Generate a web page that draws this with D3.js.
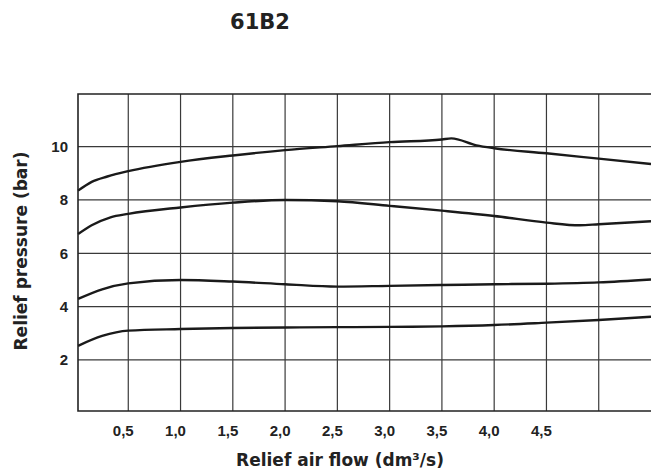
<!DOCTYPE html>
<html>
<head>
<meta charset="utf-8">
<script src="https://cdn.jsdelivr.net/npm/d3@7"></script>
<style>
  body { margin: 0; background: #fff; }
  svg { display: block; }
</style>
</head>
<body>
<div class="chart"></div>
<script>
const width = 651, height = 472;

// flow values (dm3/s)
const flowA = [0.02, 0.15, 0.3, 0.5, 1.0, 1.5, 2.0, 2.5, 3.0, 3.5, 3.59, 3.83, 4.0, 4.5, 5.0, 5.5];
const presA = [8.35, 8.68, 8.88, 9.08, 9.43, 9.67, 9.87, 10.02, 10.17, 10.27, 10.31, 10.05, 9.94, 9.75, 9.55, 9.35];

const flowB = [0.02, 0.15, 0.33, 0.5, 1.0, 1.5, 2.0, 2.5, 3.0, 3.5, 4.0, 4.5, 4.82, 5.0, 5.5];
const presB = [6.72, 7.05, 7.35, 7.48, 7.72, 7.9, 8.0, 7.95, 7.78, 7.6, 7.4, 7.15, 7.05, 7.09, 7.2];

const flowC = [0.02, 0.25, 0.5, 1.0, 1.5, 2.0, 2.5, 3.0, 3.5, 4.0, 4.5, 5.0, 5.5];
const presC = [4.29, 4.65, 4.87, 5.0, 4.94, 4.84, 4.75, 4.78, 4.81, 4.84, 4.86, 4.91, 5.02];

const flowD = [0.02, 0.25, 0.5, 1.0, 1.5, 2.0, 2.5, 3.0, 3.5, 4.0, 4.5, 5.0, 5.5];
const presD = [2.53, 2.9, 3.1, 3.16, 3.2, 3.22, 3.23, 3.24, 3.26, 3.31, 3.4, 3.5, 3.62];

const xTicks = [0.5, 1.0, 1.5, 2.0, 2.5, 3.0, 3.5, 4.0, 4.5];
const xGrid = [0.5, 1.0, 1.5, 2.0, 2.5, 3.0, 3.5, 4.0, 4.5, 5.0];
const yTicks = [2, 4, 6, 8, 10];

const x = d3.scaleLinear().domain([0, 5.5]).range([76, 651]);
const y = d3.scaleLinear().domain([0, 12]).range([413.3, 93.3]);

const svg = d3.select(".chart").append("svg")
    .attr("width", width)
    .attr("height", height);

const plotLeft = 78, plotTop = 94, plotBottom = 411;
const titleFont = "DejaVu Sans, sans-serif";
const tickFont = "Liberation Sans, Arial, sans-serif";

// grid
svg.append("g")
    .attr("stroke", "#3a3a3a")
    .attr("stroke-width", 1.2)
  .selectAll("line")
  .data(xGrid)
  .join("line")
    .attr("x1", d => x(d)).attr("x2", d => x(d))
    .attr("y1", plotTop).attr("y2", plotBottom);

svg.append("g")
    .attr("stroke", "#3a3a3a")
    .attr("stroke-width", 1.2)
  .selectAll("line")
  .data(yTicks)
  .join("line")
    .attr("x1", plotLeft).attr("x2", width)
    .attr("y1", d => y(d)).attr("y2", d => y(d));

// frame (top, left, bottom)
svg.append("path")
    .attr("d", `M${width},${plotTop}H${plotLeft}V${plotBottom}H${width}`)
    .attr("fill", "none")
    .attr("stroke", "#222")
    .attr("stroke-width", 1.6);

// curves
const line = d3.line()
    .x(d => x(d[0]))
    .y(d => y(d[1]))
    .curve(d3.curveMonotoneX);

const series = [
  d3.zip(flowA, presA),
  d3.zip(flowB, presB),
  d3.zip(flowC, presC),
  d3.zip(flowD, presD)
];

svg.append("g")
  .selectAll("path")
  .data(series)
  .join("path")
    .attr("d", line)
    .attr("fill", "none")
    .attr("stroke", "#1a1a1a")
    .attr("stroke-width", 2.4)
    .attr("stroke-linejoin", "round");

// tick labels
svg.append("g")
    .attr("font-family", tickFont)
    .attr("font-weight", "bold")
    .attr("font-size", 15)
    .attr("fill", "#222")
    .attr("text-anchor", "middle")
  .selectAll("text")
  .data(xTicks)
  .join("text")
    .attr("x", d => x(d) - 5)
    .attr("y", 436)
    .text(d => d3.format(".1f")(d).replace(".", ","));

svg.append("g")
    .attr("font-family", tickFont)
    .attr("font-weight", "bold")
    .attr("font-size", 15)
    .attr("fill", "#222")
    .attr("text-anchor", "end")
  .selectAll("text")
  .data(yTicks)
  .join("text")
    .attr("x", 68)
    .attr("y", d => y(d) + 5.5)
    .text(d => d);

// titles
svg.append("text")
    .attr("x", 260)
    .attr("y", 29)
    .attr("text-anchor", "middle")
    .attr("font-family", titleFont)
    .attr("font-weight", "bold")
    .attr("font-size", 21)
    .attr("fill", "#222")
    .text("61B2");

svg.append("text")
    .attr("x", 340)
    .attr("y", 466)
    .attr("text-anchor", "middle")
    .attr("font-family", titleFont)
    .attr("font-weight", "bold")
    .attr("font-size", 17)
    .attr("fill", "#222")
    .text("Relief air flow (dm³/s)");

svg.append("text")
    .attr("transform", "translate(27,251) rotate(-90)")
    .attr("text-anchor", "middle")
    .attr("font-family", titleFont)
    .attr("font-weight", "bold")
    .attr("font-size", 17)
    .attr("fill", "#222")
    .text("Relief pressure (bar)");
</script>
</body>
</html>
